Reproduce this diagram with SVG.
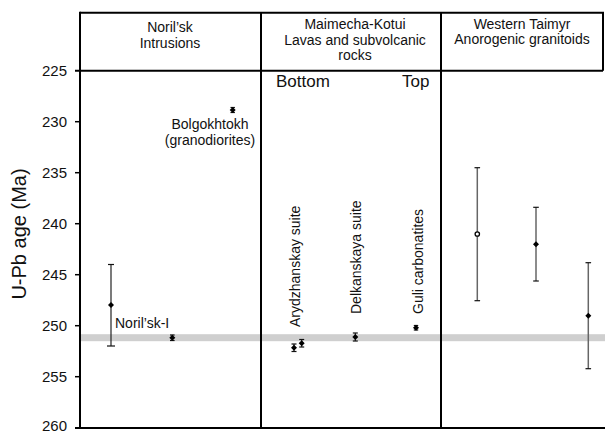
<svg xmlns="http://www.w3.org/2000/svg" xmlns:xlink="http://www.w3.org/1999/xlink" width="605" height="433" viewBox="0 0 605 433">
<style>
  text { font-family: "Liberation Sans", Arial, sans-serif; fill: #111; }
  .hdr { font-size: 14px; text-anchor: middle; }
  .tick { font-size: 15px; text-anchor: end; }
  .lbl { font-size: 14px; }
  .big { font-size: 17px; }
  .frame { stroke: #000; stroke-width: 2; fill: none; }
  .eb { stroke: #222; stroke-width: 1.2; fill: none; }
  .ebg { stroke: #666; stroke-width: 1.5; fill: none; }
  .cap { stroke: #111; stroke-width: 1.2; }
</style>
<defs>
  <path id="dia" d="M0,-3 L3,0 L0,3 L-3,0 Z" fill="#000"/>
</defs>
<rect width="605" height="433" fill="#fff"/>
<!-- reference band -->
<rect x="81" y="334.2" width="524" height="7" fill="#cfcfcf"/>
<g id="frame">
  <line class="frame" x1="80" y1="12.7" x2="604" y2="12.7"/>
  <line class="frame" x1="603" y1="12.7" x2="603" y2="70.7"/>
  <line class="frame" x1="75" y1="70.7" x2="603" y2="70.7"/>
  <line class="frame" x1="80" y1="11.7" x2="80" y2="428"/>
  <line class="frame" x1="75" y1="428" x2="605" y2="428"/>
  <line class="frame" x1="261" y1="12.7" x2="261" y2="428"/>
  <line class="frame" x1="441" y1="12.7" x2="441" y2="428"/>
</g>
<g id="axis">
  <g stroke="#000" stroke-width="1.5">
    <line x1="75" y1="121.7" x2="80" y2="121.7"/>
    <line x1="75" y1="172.7" x2="80" y2="172.7"/>
    <line x1="75" y1="223.7" x2="80" y2="223.7"/>
    <line x1="75" y1="274.7" x2="80" y2="274.7"/>
    <line x1="75" y1="325.7" x2="80" y2="325.7"/>
    <line x1="75" y1="376.7" x2="80" y2="376.7"/>
  </g>
  <text class="tick" x="67" y="76">225</text>
  <text class="tick" x="67" y="127">230</text>
  <text class="tick" x="67" y="178">235</text>
  <text class="tick" x="67" y="229">240</text>
  <text class="tick" x="67" y="280">245</text>
  <text class="tick" x="67" y="331">250</text>
  <text class="tick" x="67" y="382">255</text>
  <text class="tick" x="67" y="431">260</text>
  <text x="26" y="234" font-size="20" text-anchor="middle" transform="rotate(-90 26 234)">U-Pb age (Ma)</text>
</g>
<g id="headers">
  <text class="hdr" x="170" y="32">Noril’sk</text>
  <text class="hdr" x="170" y="47.5">Intrusions</text>
  <text class="hdr" x="355" y="29">Maimecha-Kotui</text>
  <text class="hdr" x="355" y="44.5">Lavas and subvolcanic</text>
  <text class="hdr" x="355" y="60">rocks</text>
  <text class="hdr" x="522" y="28.5">Western Taimyr</text>
  <text class="hdr" x="522" y="44">Anorogenic granitoids</text>
</g>
<g id="norilsk">
  <line class="eb" x1="111" y1="264.5" x2="111" y2="346"/>
  <line class="cap" x1="108" y1="264.5" x2="114" y2="264.5"/>
  <line class="cap" x1="107" y1="346" x2="115" y2="346"/>
  <use xlink:href="#dia" x="111" y="305"/>
</g>
<g id="norilsk-I">
  <line class="eb" x1="172.3" y1="335" x2="172.3" y2="340.5"/>
  <line class="cap" x1="170" y1="335" x2="174.6" y2="335"/>
  <line class="cap" x1="170" y1="340.5" x2="174.6" y2="340.5"/>
  <use xlink:href="#dia" x="172.3" y="337.7"/>
  <text class="lbl" x="115" y="328.3">Noril’sk-I</text>
</g>
<g id="bolgokhtokh">
  <line class="eb" x1="232.7" y1="107.5" x2="232.7" y2="112.5"/>
  <line class="cap" x1="230.5" y1="107.5" x2="234.9" y2="107.5"/>
  <line class="cap" x1="230.5" y1="112.5" x2="234.9" y2="112.5"/>
  <use xlink:href="#dia" x="232.7" y="110"/>
  <text class="lbl" x="210" y="129" text-anchor="middle">Bolgokhtokh</text>
  <text class="lbl" x="210" y="145" text-anchor="middle">(granodiorites)</text>
</g>
<g id="maimecha-labels">
  <text class="big" x="276" y="86.5">Bottom</text>
  <text class="big" x="402" y="86.5">Top</text>
</g>
<g id="arydzhanskay">
  <line class="eb" x1="294" y1="344" x2="294" y2="351.5"/>
  <line class="cap" x1="291.5" y1="344" x2="296.5" y2="344"/>
  <line class="cap" x1="291.5" y1="351.5" x2="296.5" y2="351.5"/>
  <use xlink:href="#dia" x="294" y="347.7"/>
  <line class="eb" x1="301.7" y1="339.5" x2="301.7" y2="347"/>
  <line class="cap" x1="299.2" y1="339.5" x2="304.2" y2="339.5"/>
  <line class="cap" x1="299.2" y1="347" x2="304.2" y2="347"/>
  <use xlink:href="#dia" x="301.7" y="343.3"/>
  <text class="lbl" x="300" y="327" transform="rotate(-90 300 327)">Arydzhanskay suite</text>
</g>
<g id="delkanskaya">
  <line class="eb" x1="355.3" y1="333" x2="355.3" y2="341"/>
  <line class="cap" x1="352.8" y1="333" x2="357.8" y2="333"/>
  <line class="cap" x1="352.8" y1="341" x2="357.8" y2="341"/>
  <use xlink:href="#dia" x="355.3" y="337"/>
  <text class="lbl" x="360.5" y="314" transform="rotate(-90 360.5 314)">Delkanskaya suite</text>
</g>
<g id="guli">
  <line class="eb" x1="416" y1="325.5" x2="416" y2="330"/>
  <line class="cap" x1="413.8" y1="325.5" x2="418.2" y2="325.5"/>
  <line class="cap" x1="413.8" y1="330" x2="418.2" y2="330"/>
  <use xlink:href="#dia" x="416" y="327.7"/>
  <text class="lbl" x="422.5" y="314" transform="rotate(-90 422.5 314)">Guli carbonatites</text>
</g>
<g id="taimyr-1">
  <line class="ebg" x1="477.3" y1="167.7" x2="477.3" y2="300.7"/>
  <line class="cap" x1="474.5" y1="167.7" x2="480.1" y2="167.7"/>
  <line class="cap" x1="474.5" y1="300.7" x2="480.1" y2="300.7"/>
  <circle cx="477.3" cy="234" r="2.2" fill="#fff" stroke="#000" stroke-width="1.3"/>
</g>
<g id="taimyr-2">
  <line class="ebg" x1="536" y1="207.3" x2="536" y2="281"/>
  <line class="cap" x1="533.2" y1="207.3" x2="538.8" y2="207.3"/>
  <line class="cap" x1="533.2" y1="281" x2="538.8" y2="281"/>
  <use xlink:href="#dia" x="536" y="244.3"/>
</g>
<g id="taimyr-3">
  <line class="ebg" x1="588.3" y1="262.7" x2="588.3" y2="368.7"/>
  <line class="cap" x1="585.5" y1="262.7" x2="591.1" y2="262.7"/>
  <line class="cap" x1="585.5" y1="368.7" x2="591.1" y2="368.7"/>
  <use xlink:href="#dia" x="588.3" y="315.7"/>
</g>
</svg>
